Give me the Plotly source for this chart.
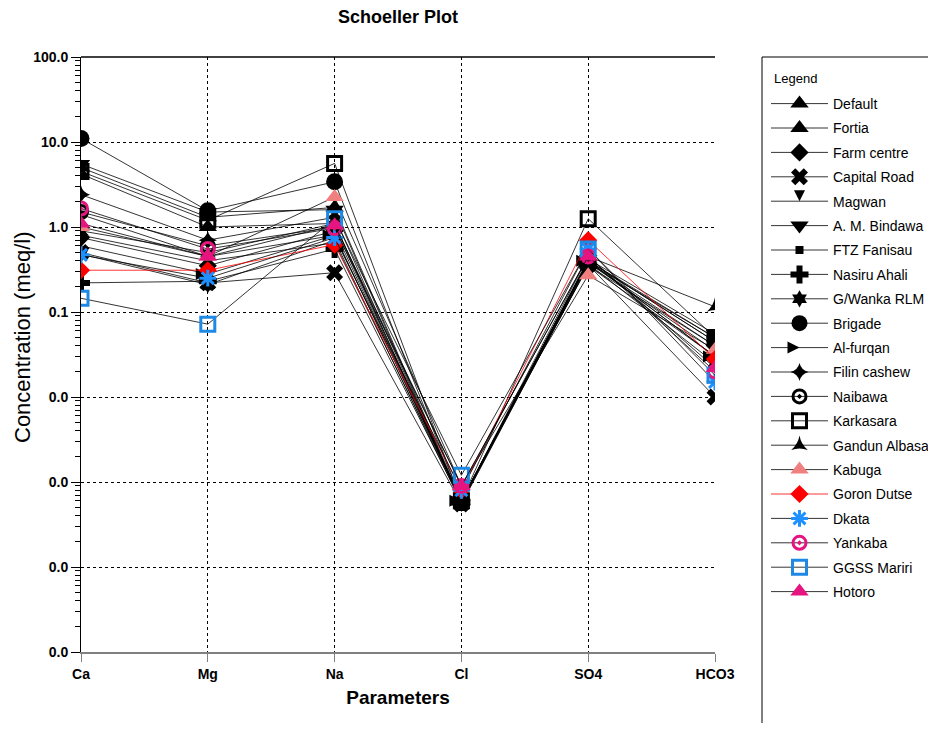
import plotly.graph_objects as go

params = ["Ca", "Mg", "Na", "Cl", "SO4", "HCO3"]

names = ["Default", "Fortia", "Farm centre", "Capital Road", "Magwan", "A. M. Bindawa",
         "FTZ Fanisau", "Nasiru Ahali", "G/Wanka RLM", "Brigade", "Al-furqan",
         "Filin cashew", "Naibawa", "Karkasara", "Gandun Albasa", "Kabuga",
         "Goron Dutse", "Dkata", "Yankaba", "GGSS Mariri", "Hotoro"]

default_v      = [5.0, 1.30, 1.70, 0.00060, 0.38, 0.050]
fortia_v       = [4.2, 1.00, 1.10, 0.00058, 0.40, 0.045]
farm_centre_v  = [0.75, 0.35, 0.90, 0.00060, 0.35, 0.040]
capital_road_v = [0.50, 0.22, 0.29, 0.00055, 0.36, 0.010]
magwan_v       = [0.80, 0.40, 0.65, 0.00060, 0.40, 0.030]
bindawa_v      = [5.5, 1.50, 1.60, 0.00057, 0.42, 0.055]
ftz_v          = [1.40, 0.45, 0.80, 0.00060, 0.38, 0.035]
nasiru_v       = [0.22, 0.23, 0.55, 0.00058, 0.35, 0.030]
gwanka_v       = [0.48, 0.21, 0.70, 0.00056, 0.37, 0.025]
brigade_v      = [11.0, 1.55, 3.40, 0.00060, 0.40, 0.050]
alfurqan_v     = [0.60, 0.28, 0.80, 0.00060, 0.40, 0.030]
filin_v        = [2.40, 0.70, 1.30, 0.00060, 0.38, 0.040]
naibawa_v      = [1.50, 0.60, 1.00, 0.00060, 0.40, 0.045]
karkasara_v    = [4.5, 1.20, 5.60, 0.00060, 1.25, 0.050]
gandun_v       = [0.90, 0.50, 1.10, 0.00060, 0.45, 0.115]
kabuga_v       = [1.00, 0.45, 2.25, 0.00090, 0.27, 0.036]
goron_v        = [0.31, 0.31, 0.62, 0.00080, 0.70, 0.028]
dkata_v        = [0.47, 0.25, 0.75, 0.00080, 0.55, 0.015]
yankaba_v      = [1.65, 0.55, 0.97, 0.00090, 0.45, 0.020]
ggss_v         = [0.145, 0.072, 1.25, 0.00120, 0.55, 0.018]
hotoro_v       = [1.10, 0.45, 1.05, 0.00090, 0.45, 0.022]

values = [default_v, fortia_v, farm_centre_v, capital_road_v, magwan_v, bindawa_v,
          ftz_v, nasiru_v, gwanka_v, brigade_v, alfurqan_v, filin_v, naibawa_v,
          karkasara_v, gandun_v, kabuga_v, goron_v, dkata_v, yankaba_v, ggss_v, hotoro_v]

ytick_vals = [100, 10, 1, 0.1, 0.01, 0.001, 0.0001, 0.00001]
ytick_text = ["100.0", "10.0", "1.0", "0.1", "0.0", "0.0", "0.0", "0.0"]

# style per series: (symbol, size, colour, line width of marker outline)
styles = [
    ("triangle-up", 16, "black", 0),
    ("triangle-up", 16, "black", 0),
    ("diamond", 14, "black", 0),
    ("x", 15, "black", 0),
    ("arrow-down", 11, "black", 0),
    ("triangle-down", 16, "black", 0),
    ("square", 8, "black", 0),
    ("cross", 15, "black", 0),
    ("hexagram", 13, "black", 0),
    ("circle", 17, "black", 0),
    ("arrow-right", 12, "black", 0),
    ("star-diamond", 13, "black", 0),
    ("circle-open-dot", 13, "black", 3),
    ("square-open", 14, "black", 3),
    ("star-triangle-up", 12, "black", 0),
    ("triangle-up", 16, "#F08080", 0),
    ("diamond", 14, "#FF0000", 0),
    ("asterisk-open", 14, "#1E90FF", 3),
    ("circle-open-dot", 13, "#E5147F", 3),
    ("square-open", 14, "#1E88E5", 3),
    ("triangle-up", 16, "#E5147F", 0),
]

# page has an 8px body margin; figure is offset by (8, 8)
W, H = 920, 715
L, T = 73, 49
PW, PH = 634, 595

fig = go.Figure()
for i, (nm, vals) in enumerate(zip(names, values)):
    sym, sz, col, lw = styles[i]
    line_col = "#FF0000" if nm == "Goron Dutse" else "black"
    fig.add_trace(go.Scatter(
        x=list(range(len(params))), y=vals, name=nm, mode="lines+markers",
        legendgroup=nm,
        line=dict(color=line_col, width=0.8),
        marker=dict(symbol=sym, size=sz, color=col,
                    line=dict(color=col, width=lw)),
    ))

def px_x(p):  # page px -> paper x
    return (p - 8 - L) / PW

def px_y(p):  # page px -> paper y
    return 1 - (p - 8 - T) / PH

fig.update_layout(
    width=W, height=H,
    paper_bgcolor="white", plot_bgcolor="white",
    margin=dict(l=L, r=W - L - PW, t=T, b=H - T - PH, autoexpand=False),
    title=dict(text="<b>Schoeller Plot</b>", x=(398 - 8) / W, xanchor="center",
               y=1 - 2 / H, yanchor="top",
               font=dict(family="Liberation Sans", size=18, color="black")),
    font=dict(family="Liberation Sans", color="black"),
    showlegend=True,
    legend=dict(
        x=px_x(766), xanchor="left", y=px_y(88), yanchor="top",
        font=dict(size=14, family="Liberation Sans", color="black"),
        bgcolor="rgba(0,0,0,0)", borderwidth=0,
        tracegroupgap=3.2, itemwidth=57,
    ),
    annotations=[
        dict(text="Legend", xref="paper", yref="paper", x=px_x(772), y=px_y(78),
             xanchor="left", yanchor="middle", showarrow=False,
             font=dict(size=13, family="Liberation Sans", color="black")),
        dict(text="Concentration (meq/l)", xref="paper", yref="paper",
             x=px_x(22), y=px_y(337), xanchor="center", yanchor="middle",
             textangle=-90, showarrow=False,
             font=dict(size=22, family="Liberation Sans", color="black")),
    ],
    xaxis=dict(
        range=[0, 5], tickvals=list(range(len(params))),
        ticktext=["<b>%s</b>" % p for p in params],
        tickfont=dict(size=14, family="Liberation Sans"),
        showline=True, linecolor="#808080", linewidth=2,
        ticks="outside", ticklen=8, tickcolor="#808080",
        showgrid=True, gridcolor="black", griddash="3px,3px", gridwidth=1,
        zeroline=False, automargin=False,
        title=dict(text="<b>Parameters</b>", font=dict(size=19), standoff=10),
    ),
    yaxis=dict(
        type="log", range=[-5, 2], tickvals=ytick_vals,
        ticktext=["<b>%s</b>" % t for t in ytick_text],
        tickfont=dict(size=14, family="Liberation Sans"),
        showline=True, linecolor="black", linewidth=1,
        ticks="outside", ticklen=9, tickcolor="black",
        minor=dict(ticks="outside", ticklen=5, tickcolor="black", dtick="D1", showgrid=False),
        showgrid=True, gridcolor="black", griddash="3px,3px", gridwidth=1,
        zeroline=False, automargin=False,
    ),
    shapes=[
        dict(type="line", xref="paper", yref="paper", x0=0, x1=1, y0=1, y1=1,
             line=dict(color="black", width=1.5)),
        dict(type="rect", xref="paper", yref="paper",
             x0=px_x(762), x1=1.5, y0=1.0, y1=-0.2,
             line=dict(color="black", width=1)),
    ],
)

fig.write_html("out.html")
